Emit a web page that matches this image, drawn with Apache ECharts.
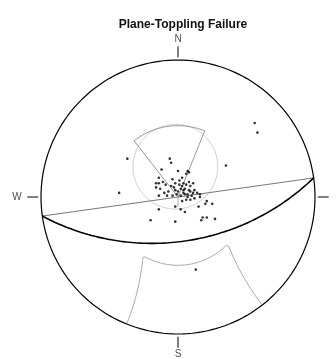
<!DOCTYPE html>
<html>
<head>
<meta charset="utf-8">
<script src="https://cdn.jsdelivr.net/npm/echarts@6/dist/echarts.min.js"></script>
<style>
  html, body { margin: 0; padding: 0; background: #fff; }
  #chart { width: 336px; height: 359px; }
</style>
</head>
<body>
<div id="chart"></div>
<script>
// slope face and kinematic limits, degrees
const slopeDipDir = 172;
const slopeDip = 54;
const lateralLimit = 30;
const slidingArcPlunge = 35;
const topplingArcPlunge = 37;
const coneAxis = [355, 67]; // trend, plunge
const coneHalfAngle = 33;

// poles (x east, y north, primitive radius = 1)
const poleX = [-0.37, -0.06, -0.05, 0.35, -0.12, 0.00, 0.07, 0.08, 0.06, -0.14,
  -0.43, -0.20, -0.02, 0.18, 0.21, 0.17, 0.27, 0.21, 0.20, 0.25,
  0.15, -0.14, 0.05, 0.02, -0.02, 0.16, 0.13, 0.56, 0.58, -0.16,
  -0.14, -0.11, -0.09, -0.16, -0.13, -0.05, -0.03, -0.02, 0.01, 0.03,
  0.04, 0.06, 0.08, 0.09, 0.11, 0.08, 0.09, 0.11, 0.14, 0.16,
  -0.02, 0.00, 0.02, 0.04, 0.05, 0.02, 0.07, -0.01, 0.03, 0.01,
  0.04, 0.10, -0.07, -0.10, -0.04, 0.06, 0.09, 0.03, 0.12, -0.14,
  -0.08, -0.04, 0.05, 0.07, 0.12];
const poleY = [0.28, 0.28, 0.25, 0.23, 0.20, 0.19, 0.19, 0.18, 0.17, 0.14,
  0.03, -0.17, -0.18, -0.15, -0.15, -0.17, -0.16, -0.03, -0.05, -0.05,
  -0.07, -0.09, -0.11, -0.09, -0.07, 0.00, -0.53, 0.54, 0.47, 0.10,
  0.10, 0.11, 0.09, 0.07, 0.06, 0.08, 0.07, 0.10, 0.12, 0.14,
  0.10, 0.09, 0.11, 0.08, 0.10, 0.05, 0.04, 0.03, 0.03, 0.02,
  0.05, 0.04, 0.06, 0.03, 0.02, 0.01, 0.02, 0.02, 0.08, 0.09,
  0.05, 0.01, 0.04, 0.03, 0.01, -0.02, -0.02, -0.03, -0.01, 0.01,
  0.01, 0.13, 0.06, 0.00, 0.05];

const compassNames = ['N', 'S', 'W'];
const compassAz = [0, 180, 270];
const tickAz = [0, 90, 180, 270];

// net placement on the page
const W = 336, H = 359, CX = 178, CY = 197, R = 137;

const rad = d => d * Math.PI / 180;
const deg = r => r * 180 / Math.PI;
const round = v => Math.round(v * 1e6) / 1e6;

// lower hemisphere, equal angle
function proj(trend, plunge) {
  const r = Math.tan(rad(90 - plunge) / 2);
  return [round(r * Math.sin(rad(trend))), round(r * Math.cos(rad(trend)))];
}
function toVec(t, p) {
  return [Math.cos(rad(p)) * Math.sin(rad(t)), Math.cos(rad(p)) * Math.cos(rad(t)), Math.sin(rad(p))];
}
function projVec(v) {
  let [e, n, d] = v;
  if (d < -1e-9) { e = -e; n = -n; d = -d; }
  return proj(deg(Math.atan2(e, n)), deg(Math.asin(Math.min(1, d))));
}

function greatCircle(dipDir, dip) {
  const s = toVec(dipDir - 90, 0), dv = toVec(dipDir, dip);
  const pts = [];
  for (let a = 0; a <= 180; a += 2) {
    const c = Math.cos(rad(a)), sn = Math.sin(rad(a));
    pts.push(projVec([s[0] * c + dv[0] * sn, s[1] * c + dv[1] * sn, s[2] * c + dv[2] * sn]));
  }
  return pts;
}

function smallCircle(axis, half) {
  const a = toVec(axis[0], axis[1]);
  const b = toVec(axis[0], axis[1] - 90);
  const c = [a[1] * b[2] - a[2] * b[1], a[2] * b[0] - a[0] * b[2], a[0] * b[1] - a[1] * b[0]];
  const pts = [];
  for (let t = 0; t <= 360; t += 4) {
    const ct = Math.cos(rad(t)) * Math.sin(rad(half)), st = Math.sin(rad(t)) * Math.sin(rad(half));
    const ch = Math.cos(rad(half));
    pts.push(projVec([a[0] * ch + b[0] * ct + c[0] * st, a[1] * ch + b[1] * ct + c[1] * st, a[2] * ch + b[2] * ct + c[2] * st]));
  }
  return pts;
}

const primitive = [];
for (let t = 0; t <= 360; t += 2) primitive.push(proj(t, 0));

// planar sliding zone (poles opposite the slope direction)
const slideDir = slopeDipDir + 180;
const slideZone = [[0, 0]];
for (let t = slideDir - lateralLimit; t <= slideDir + lateralLimit; t += 2) slideZone.push(proj(t, slidingArcPlunge));
slideZone.push([0, 0]);
const slideStem = [[0, 0.03], proj(slopeDipDir + 8, 82)];

// toppling zone, lateral limits as small circles about the slope strike
const limitAngle = 90 - lateralLimit;
const toppleZone = [];
const sideTrend = (p, sign) => slopeDipDir + sign * (90 - deg(Math.acos(Math.cos(rad(limitAngle)) / Math.cos(rad(p)))));
for (let p = 0; p <= topplingArcPlunge; p += 1) toppleZone.push(proj(sideTrend(p, 1), p));
const tL = sideTrend(topplingArcPlunge, 1), tR = sideTrend(topplingArcPlunge, -1);
for (let t = tL; t >= tR; t -= 2) toppleZone.push(proj(t, topplingArcPlunge));
for (let p = topplingArcPlunge; p >= 0; p -= 1) toppleZone.push(proj(sideTrend(p, -1), p));

const strikeLine = [proj(slopeDipDir - 90, 0), proj(slopeDipDir + 90, 0)];

const lineSeries = (data, color, width, z) => ({
  type: 'line', data, showSymbol: false, symbol: 'none', silent: true, z,
  lineStyle: { color, width }, animation: false
});

const ticks = tickAz.map(az => lineSeries([
  [round(1.02 * Math.sin(rad(az))), round(1.02 * Math.cos(rad(az)))],
  [round(1.10 * Math.sin(rad(az))), round(1.10 * Math.cos(rad(az)))]
], '#000', 1, 3));

const chart = echarts.init(document.getElementById('chart'), null, { renderer: 'canvas' });
chart.setOption({
  animation: false,
  backgroundColor: '#fff',
  title: {
    text: 'Plane-Toppling Failure',
    left: 178,
    top: 14,
    textAlign: 'center',
    textStyle: { fontSize: 12, fontWeight: 'bold', fontFamily: 'Liberation Sans', color: '#111' }
  },
  grid: { left: 0, top: 0, right: 0, bottom: 0 },
  xAxis: { type: 'value', min: -CX / R, max: (W - CX) / R, show: false },
  yAxis: { type: 'value', min: -(H - CY) / R, max: CY / R, show: false },
  series: [
    lineSeries(smallCircle(coneAxis, coneHalfAngle), '#d0d0d0', 1, 1),
    lineSeries(slideZone, '#999', 1, 1),
    lineSeries(slideStem, '#aaa', 1, 1),
    lineSeries(toppleZone, '#aaa', 1, 1),
    lineSeries(strikeLine, '#777', 1, 2),
    lineSeries(greatCircle(slopeDipDir, slopeDip), '#000', 1.6, 3),
    lineSeries(primitive, '#000', 1.2, 3),
    ...ticks,
    {
      type: 'scatter', silent: true, z: 4,
      symbol: 'circle', symbolSize: 2.6,
      itemStyle: { color: '#000' },
      data: poleX.map((x, i) => [x, poleY[i]])
    },
    {
      type: 'scatter', silent: true, z: 4,
      symbolSize: 0,
      data: compassNames.map((n, i) => {
        const r = compassAz[i] === 270 ? 1.175 : 1.15;
        return { name: n, value: [round(r * Math.sin(rad(compassAz[i]))), round(r * Math.cos(rad(compassAz[i])))] };
      }),
      label: {
        show: true, position: 'inside', formatter: '{b}',
        color: '#222', fontSize: 10, fontFamily: 'Liberation Sans'
      }
    }
  ]
});
</script>
</body>
</html>
